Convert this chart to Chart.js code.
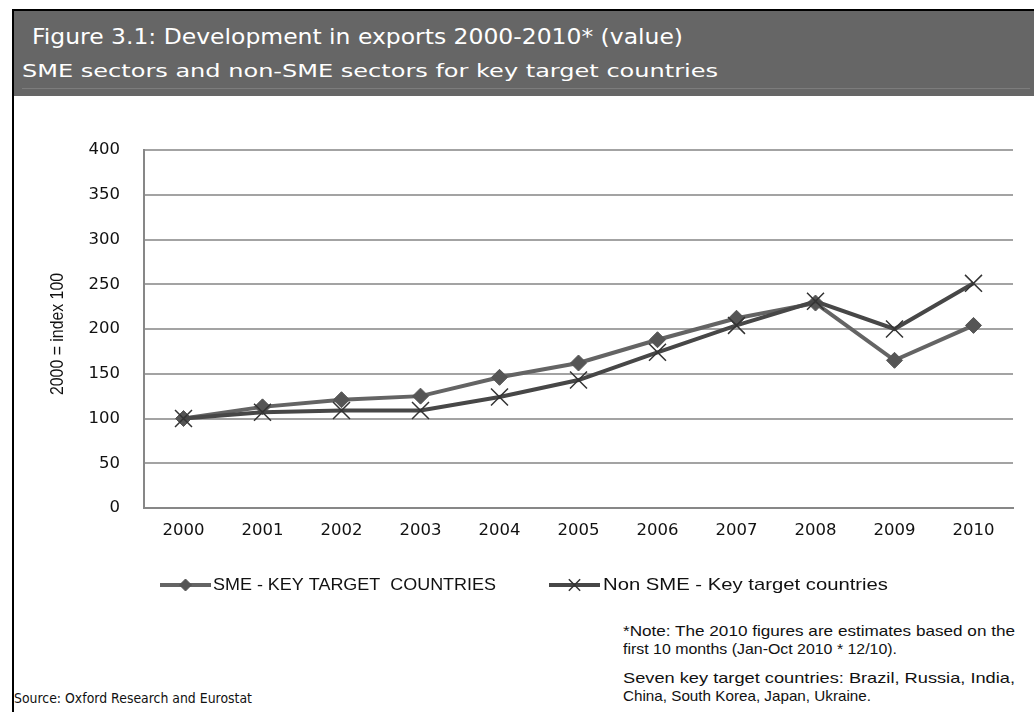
<!DOCTYPE html>
<html lang="en">
<head>
    <meta charset="UTF-8">
    <title>Figure 3.1 - Development in exports 2000-2010</title>
    <script src="https://cdn.jsdelivr.net/npm/chart.js"></script>
    <style>
        html, body {
            margin: 0;
            padding: 0;
            width: 1034px;
            height: 712px;
            overflow: hidden;
            background: #fff;
        }
        .frame {
            position: absolute;
            left: 12px;
            top: 9px;
            width: 1022px;
            height: 703px;
            border-left: 2px solid #000;
            border-top: 2px solid #000;
            box-sizing: border-box;
        }
        .header {
            position: absolute;
            left: 14px;
            top: 11px;
            width: 1020px;
            height: 85px;
            background: #666666;
        }
        .header-rule {
            position: absolute;
            left: 22px;
            top: 88px;
            width: 1008px;
            height: 1px;
            background: #7c7c7c;
        }
        .fit {
            position: absolute;
            white-space: nowrap;
            transform-origin: 0 0;
        }
        .title {
            left: 32px;
            top: 26px;
            font: 22px/22px "DejaVu Sans", Verdana, sans-serif;
            color: #fff;
        }
        .subtitle {
            left: 22px;
            top: 63px;
            font: 17px/17px "DejaVu Sans", Verdana, sans-serif;
            color: #fff;
        }
        .note {
            font: 15px/15px "Liberation Sans", Arial, sans-serif;
            color: #111;
        }
        .source {
            left: 14px;
            top: 691px;
            font: 14.5px/15px "DejaVu Sans", Verdana, sans-serif;
            color: #111;
        }
        #chart {
            position: absolute;
            left: 0;
            top: 0;
        }
    </style>
</head>
<body>
    <div class="frame"></div>
    <div class="header"></div>
    <div class="header-rule"></div>

    <!-- texts: data-w = width they take in the reference -->
    <div class="fit title" data-w="651">Figure 3.1: Development in exports 2000-2010* (value)</div>
    <div class="fit subtitle" data-w="696">SME sectors and non-SME sectors for key target countries</div>

    <div class="fit note" style="left:623px; top:623px" data-w="392">*Note: The 2010 figures are estimates based on the</div>
    <div class="fit note" style="left:623px; top:641px" data-w="274">first 10 months (Jan-Oct 2010 * 12/10).</div>
    <div class="fit note" style="left:623px; top:670px" data-w="392">Seven key target countries: Brazil, Russia, India,</div>
    <div class="fit note" style="left:623px; top:688px" data-w="248">China, South Korea, Japan, Ukraine.</div>

    <div class="fit source" data-w="238">Source: Oxford Research and Eurostat</div>

    <canvas id="chart" width="1034" height="712"></canvas>

    <script>
        // data
        const years = ['2000', '2001', '2002', '2003', '2004', '2005', '2006', '2007', '2008', '2009', '2010'];
        const smeValues = [100, 113, 121, 125, 146, 162, 188, 212, 229, 165, 204];
        const nonSmeValues = [100, 107, 109, 109, 124, 143, 174, 204, 231, 200, 251];
        const smeLabel = 'SME - KEY TARGET  COUNTRIES';
        const nonSmeLabel = 'Non SME - Key target countries';
        const yAxisTitle = '2000 = index 100';
        const yMin = 0;
        const yMax = 400;
        const yStep = 50;

        // stretch the html texts to the width they have in the reference
        document.querySelectorAll('.fit').forEach(el => {
            const target = parseFloat(el.dataset.w);
            const w = el.getBoundingClientRect().width;
            if (w > 0) el.style.transform = 'scaleX(' + (target / w) + ')';
        });

        const smeLine = '#646464';
        const smeMark = '#555555';
        const nonLine = '#474747';
        const nonMark = '#333333';

        // draws text squeezed/stretched to a given length
        function fitText(ctx, text, x, y, len, rot) {
            const w = ctx.measureText(text).width;
            ctx.save();
            ctx.translate(x, y);
            if (rot) ctx.rotate(rot);
            ctx.scale(len / w, 1);
            ctx.fillText(text, 0, 0);
            ctx.restore();
        }

        // legend drawn by hand, Excel style: line with marker in the middle
        // and the narrow rotated y axis title
        const excelLegend = {
            id: 'excelLegend',
            afterDraw(chart) {
                const ctx = chart.ctx;
                const y = 585;
                const items = [
                    { x: 160, textX: 213, textW: 283, label: smeLabel, line: smeLine, fill: smeMark, style: 'rectRot', r: 6, bw: 1 },
                    { x: 549, textX: 603, textW: 285, label: nonSmeLabel, line: nonLine, fill: nonMark, style: 'crossRot', r: 8, bw: 1.5 }
                ];
                ctx.save();
                items.forEach(it => {
                    ctx.strokeStyle = it.line;
                    ctx.lineWidth = 4;
                    ctx.beginPath();
                    ctx.moveTo(it.x, y);
                    ctx.lineTo(it.x + 51, y);
                    ctx.stroke();

                    ctx.fillStyle = it.fill;
                    ctx.strokeStyle = it.fill;
                    ctx.lineWidth = it.bw;
                    Chart.helpers.drawPoint(ctx, { pointStyle: it.style, radius: it.r, rotation: 0, borderWidth: it.bw }, it.x + 25.5, y);

                    ctx.font = '17px "Liberation Sans", Arial, sans-serif';
                    ctx.fillStyle = '#111';
                    ctx.textBaseline = 'middle';
                    fitText(ctx, it.label, it.textX, y, it.textW, 0);
                });

                // y axis title
                ctx.font = '19px "Liberation Sans", Arial, sans-serif';
                ctx.fillStyle = '#111';
                ctx.textBaseline = 'middle';
                fitText(ctx, yAxisTitle, 58, 395, 122, -Math.PI / 2);
                ctx.restore();
            }
        };

        const ctx = document.getElementById('chart').getContext('2d');
        new Chart(ctx, {
            type: 'line',
            data: {
                labels: years,
                datasets: [{
                    label: smeLabel,
                    data: smeValues,
                    borderColor: smeLine,
                    borderWidth: 4,
                    backgroundColor: smeMark,
                    pointStyle: 'rectRot',
                    pointRadius: 8,
                    pointBorderWidth: 1,
                    pointBorderColor: smeMark,
                    pointBackgroundColor: smeMark,
                    tension: 0,
                    order: 2
                }, {
                    label: nonSmeLabel,
                    data: nonSmeValues,
                    borderColor: nonLine,
                    borderWidth: 4,
                    pointStyle: 'crossRot',
                    pointRadius: 12,
                    pointBorderWidth: 1.5,
                    pointBorderColor: nonMark,
                    tension: 0,
                    order: 1
                }]
            },
            options: {
                responsive: false,
                animation: false,
                events: [],
                layout: {
                    padding: { left: 0, top: 150, right: 21, bottom: 144 }
                },
                plugins: {
                    legend: { display: false },
                    tooltip: { enabled: false }
                },
                scales: {
                    x: {
                        offset: true,
                        afterFit: scale => { scale.height = 60; },
                        grid: { display: false, drawTicks: false },
                        border: { display: true, color: '#878787', width: 2 },
                        ticks: {
                            color: '#111',
                            padding: 13,
                            maxRotation: 0,
                            font: { family: '"DejaVu Sans", Verdana, sans-serif', size: 16.5 }
                        }
                    },
                    y: {
                        min: yMin,
                        max: yMax,
                        afterFit: scale => { scale.width = 144; },
                        grid: { color: '#a3a3a3', lineWidth: 2, drawTicks: false },
                        border: { display: true, color: '#878787', width: 2 },
                        ticks: {
                            stepSize: yStep,
                            color: '#111',
                            padding: 24,
                            font: { family: '"DejaVu Sans", Verdana, sans-serif', size: 16.5 }
                        }
                    }
                }
            },
            plugins: [excelLegend]
        });
    </script>
</body>
</html>
